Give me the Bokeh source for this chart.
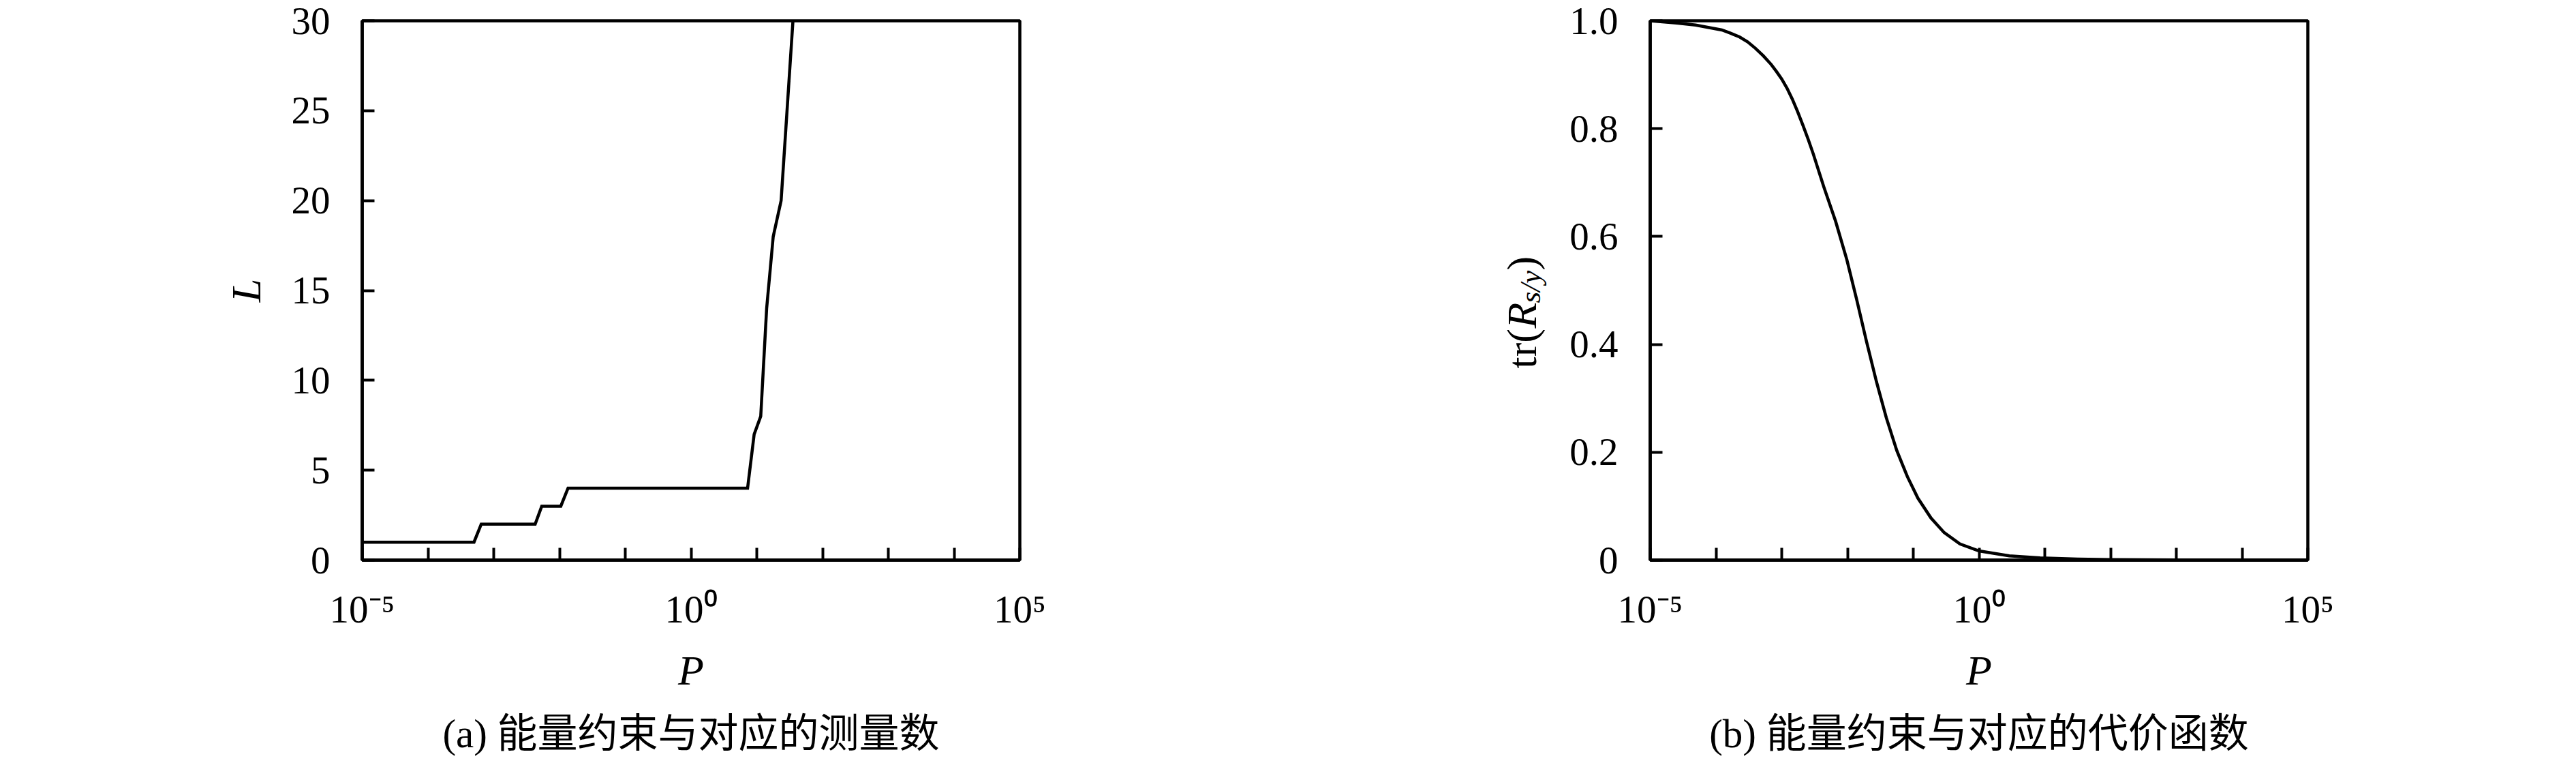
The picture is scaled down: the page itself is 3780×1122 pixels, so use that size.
import math
from bokeh.plotting import figure
from bokeh.models import FixedTicker, CustomJSTickFormatter, Range1d, Title
from bokeh.layouts import row
from bokeh.embed import file_html
from bokeh.resources import INLINE
from bokeh.core.properties import value

# ---------------- data ----------------
X_TICKS = [1e-5, 1e-4, 1e-3, 1e-2, 1e-1, 1e0, 1e1, 1e2, 1e3, 1e4, 1e5]
X_TICK_LABELS = ["10⁻⁵", "", "", "", "", "10⁰", "", "", "", "", "10⁵"]

A_Y_TICKS = [0, 5, 10, 15, 20, 25, 30]
A_Y_TICK_LABELS = ["0", "5", "10", "15", "20", "25", "30"]
B_Y_TICKS = [0, 0.2, 0.4, 0.6, 0.8, 1.0]
B_Y_TICK_LABELS = ["0", "0.2", "0.4", "0.6", "0.8", "1.0"]

# panel (a): number of measurements L versus power constraint P (log10 of P)
A_LOG10_P = [-5.0, -3.30, -3.19, -2.37, -2.27, -1.98, -1.87, 0.86, 0.96, 1.06, 1.15, 1.25, 1.37, 1.55]
A_L = [1, 1, 2, 2, 3, 3, 4, 4, 7, 8, 14, 18, 20, 30]

# panel (b): cost function tr(R_{s/y}) versus P (log10 of P)
B_LOG10_P = [-5.0, -4.6, -4.31, -3.91, -3.78, -3.64, -3.52, -3.40, -3.28, -3.16, -3.08,
             -3.00, -2.92, -2.84, -2.76, -2.68, -2.60, -2.52, -2.36,
             -2.18, -2.01, -1.86, -1.71, -1.56, -1.41, -1.25, -1.09, -0.93, -0.73, -0.53,
             -0.29, 0.0, 0.46, 0.93, 1.5, 2.0, 3.0, 4.0, 5.0]
B_TR = [1.0, 0.996, 0.992, 0.983, 0.977, 0.970, 0.961, 0.949, 0.935, 0.919, 0.906,
        0.892, 0.875, 0.855, 0.832, 0.807, 0.781, 0.753, 0.692,
        0.628, 0.557, 0.483, 0.405, 0.331, 0.264, 0.203, 0.155, 0.115, 0.078, 0.051,
        0.030, 0.017, 0.008, 0.004, 0.002, 0.001, 0.0004, 0.0001, 0.0]

X_LABEL = "P"
A_Y_LABEL = "L"
B_Y_LABEL_PIECES = ["tr(", "R", "s/y", ")"]
CAPTION_A = "(a) 能量约束与对应的测量数"
CAPTION_B = "(b) 能量约束与对应的代价函数"

SERIF = "Liberation Serif"
CAP_FONT = "Liberation Serif, Noto Sans CJK SC"
FRAME_W, FRAME_H = 965, 791
TOP, H_TOTAL = 30, 1106

FMT_CODE = """
for (let i = 0; i < vals.length; i++) {
  if (Math.abs(vals[i] - tick) <= 1e-6 * Math.abs(vals[i]) + 1e-12) { return labels[i]; }
}
return "";
"""


def make_panel(log_p, ys, y_max, y_ticks, y_labels, min_left, min_right, caption, y_label=""):
    p = figure(x_axis_type="log", x_range=Range1d(1e-5, 1e5), y_range=Range1d(0, y_max),
               frame_width=FRAME_W, frame_height=FRAME_H,
               min_border_left=min_left, min_border_right=min_right,
               min_border_top=TOP, min_border_bottom=H_TOTAL - TOP - FRAME_H,
               output_backend="svg", toolbar_location=None)
    xs = [10 ** e for e in log_p]
    p.line(xs, ys, line_color="black", line_width=4.5, line_join="miter")

    p.grid.visible = False
    p.background_fill_color = "white"
    p.border_fill_color = "white"
    p.outline_line_color = "black"
    p.outline_line_width = 4.5
    p.outline_line_alpha = 1.0

    xa = p.xaxis[0]
    ya = p.yaxis[0]
    xa.ticker = FixedTicker(ticks=X_TICKS, minor_ticks=[])
    xa.formatter = CustomJSTickFormatter(args=dict(vals=X_TICKS, labels=X_TICK_LABELS), code=FMT_CODE)
    ya.ticker = FixedTicker(ticks=y_ticks, minor_ticks=[])
    ya.formatter = CustomJSTickFormatter(args=dict(vals=y_ticks, labels=y_labels), code=FMT_CODE)
    for ax in (xa, ya):
        ax.major_tick_in = 18
        ax.major_tick_out = 0
        ax.minor_tick_in = 0
        ax.minor_tick_out = 0
        ax.major_tick_line_width = 4
        ax.major_tick_line_color = "black"
        ax.axis_line_width = 4.5
        ax.axis_line_color = "black"
        ax.major_label_text_font = SERIF
        ax.major_label_text_font_size = "57px"
        ax.major_label_text_color = "black"
        ax.axis_label_text_font = SERIF
        ax.axis_label_text_font_style = "italic"
        ax.axis_label_text_font_size = "62px"
        ax.axis_label_text_color = "black"
    xa.major_label_standoff = 40
    ya.major_label_standoff = 47
    xa.axis_label = X_LABEL
    xa.axis_label_standoff = 21
    ya.axis_label = y_label
    ya.axis_label_standoff = 30

    p.add_layout(Title(text=caption, align="center", text_font=CAP_FONT, text_font_size="59px",
                       text_font_style="normal", text_color="black", standoff=42), "below")
    return p


pA = make_panel(A_LOG10_P, A_L, 30, A_Y_TICKS, A_Y_TICK_LABELS, 531, 386, CAPTION_A, A_Y_LABEL)

# narrow label strip holding the composite y label of panel (b)
LAB_W = 410
pLab = figure(width=LAB_W, height=H_TOTAL, frame_width=LAB_W, frame_height=H_TOTAL,
              x_range=Range1d(0, LAB_W), y_range=Range1d(0, H_TOTAL),
              x_axis_location=None, y_axis_location=None, min_border=0,
              output_backend="svg", toolbar_location=None)
pLab.grid.visible = False
pLab.outline_line_color = None
pLab.background_fill_color = "white"
pLab.border_fill_color = "white"

# (style, size, baseline x, start y) in strip pixels for each piece of the label
styles = [("normal", "62px", 350, 596), ("italic", "62px", 350, 655),
          ("italic", "43px", 363, 692), ("normal", "62px", 350, 740)]
for txt, (style, size, bx, by) in zip(B_Y_LABEL_PIECES, styles):
    pLab.text(x=[bx], y=[by], text=[txt], angle=math.pi / 2,
              text_font=value(SERIF), text_font_style=style, text_font_size=size,
              text_align="left", text_baseline="alphabetic", text_color="black")

pB = make_panel(B_LOG10_P, B_TR, 1.0, B_Y_TICKS, B_Y_TICK_LABELS, 129, 378, CAPTION_B)

layout = row(pA, pLab, pB)
open("out.html", "w").write(file_html(layout, INLINE))
